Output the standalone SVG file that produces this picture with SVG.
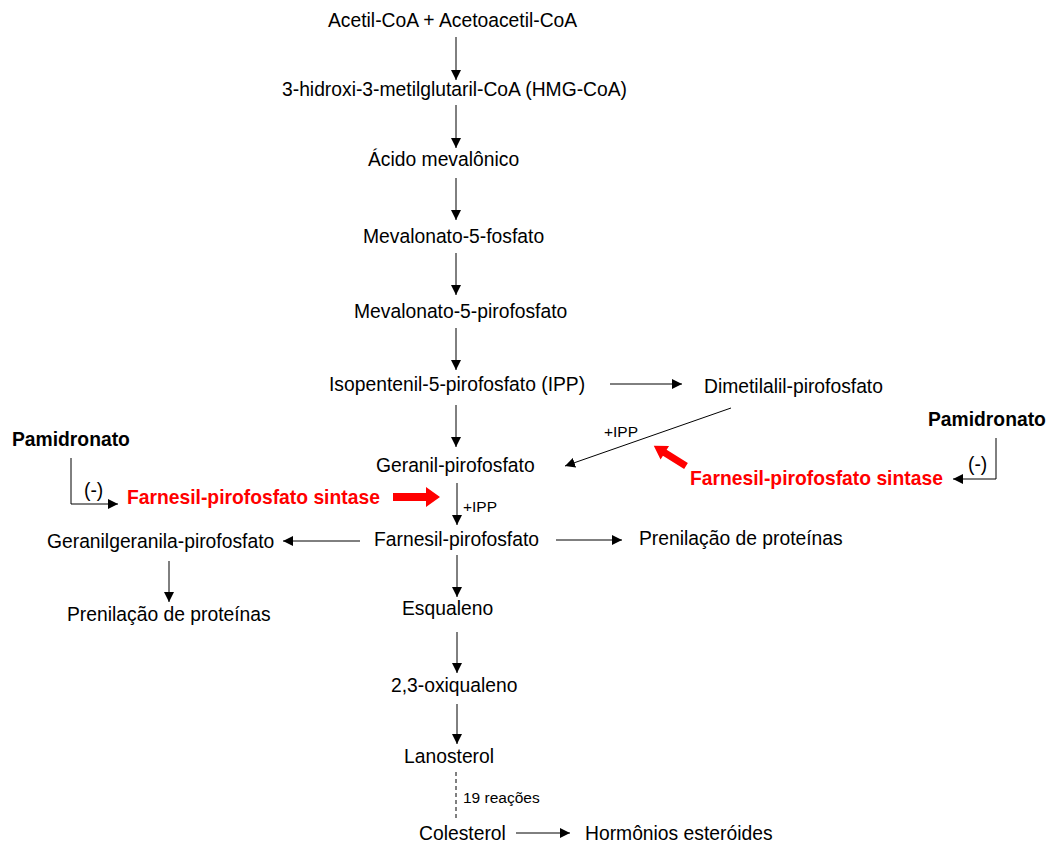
<svg xmlns="http://www.w3.org/2000/svg" width="1054" height="846" viewBox="0 0 1054 846">
<defs>
<marker id="ah" viewBox="0 0 10 10" refX="10" refY="5" markerWidth="10" markerHeight="10" markerUnits="userSpaceOnUse" orient="auto">
<path d="M0,0 L10,5 L0,10 Z" fill="#000"/>
</marker>
</defs>
<style>
text{font-family:"Liberation Sans",Arial,sans-serif;font-size:19.3px;fill:#000}
.b{font-weight:bold}
.r{fill:#ff0000;font-weight:bold}
.s{font-size:15.5px}
.c{stroke:#000;stroke-width:1;fill:none}
.d{stroke-dasharray:4,3}
.red{fill:#ff0000}
</style>
<rect width="1054" height="846" fill="#fff"/>
<g id="n-acetil"><text x="328" y="27">Acetil-CoA + Acetoacetil-CoA</text></g>
<g id="n-hmg"><text x="282" y="96">3-hidroxi-3-metilglutaril-CoA (HMG-CoA)</text></g>
<g id="n-acido"><text x="368" y="166">Ácido mevalônico</text></g>
<g id="n-mev5f"><text x="363" y="243">Mevalonato-5-fosfato</text></g>
<g id="n-mev5pp"><text x="354" y="318">Mevalonato-5-pirofosfato</text></g>
<g id="n-ipp"><text x="329" y="391">Isopentenil-5-pirofosfato (IPP)</text></g>
<g id="n-dmapp"><text x="704" y="393">Dimetilalil-pirofosfato</text></g>
<g id="n-gpp"><text x="376" y="472">Geranil-pirofosfato</text></g>
<g id="n-fpp"><text x="374" y="546">Farnesil-pirofosfato</text></g>
<g id="n-ggpp"><text x="47" y="548">Geranilgeranila-pirofosfato</text></g>
<g id="n-pren1"><text x="639" y="545">Prenilação de proteínas</text></g>
<g id="n-pren2"><text x="67" y="621">Prenilação de proteínas</text></g>
<g id="n-esq"><text x="402" y="615">Esqualeno</text></g>
<g id="n-oxi"><text x="391" y="692">2,3-oxiqualeno</text></g>
<g id="n-lano"><text x="404" y="763">Lanosterol</text></g>
<g id="n-col"><text x="419" y="840">Colesterol</text></g>
<g id="n-horm"><text x="585" y="840">Hormônios esteróides</text></g>
<g id="n-pam1"><text class="b" x="12" y="446">Pamidronato</text></g>
<g id="n-pam2"><text class="b" x="928" y="426">Pamidronato</text></g>
<g id="n-fps1"><text class="r" x="127" y="504">Farnesil-pirofosfato sintase</text></g>
<g id="n-fps2"><text class="r" x="690" y="485">Farnesil-pirofosfato sintase</text></g>
<g id="connectors">
<line class="c" x1="456" y1="37" x2="456" y2="80" marker-end="url(#ah)"/>
<line class="c" x1="456" y1="105" x2="456" y2="148" marker-end="url(#ah)"/>
<line class="c" x1="456" y1="178" x2="456" y2="220" marker-end="url(#ah)"/>
<line class="c" x1="456" y1="253" x2="456" y2="295" marker-end="url(#ah)"/>
<line class="c" x1="456" y1="328" x2="456" y2="370" marker-end="url(#ah)"/>
<line class="c" x1="456" y1="405" x2="456" y2="447" marker-end="url(#ah)"/>
<line class="c" x1="457" y1="483" x2="457" y2="525" marker-end="url(#ah)"/>
<line class="c" x1="457" y1="555" x2="457" y2="597" marker-end="url(#ah)"/>
<line class="c" x1="457" y1="632" x2="457" y2="673" marker-end="url(#ah)"/>
<line class="c" x1="457" y1="704" x2="457" y2="744" marker-end="url(#ah)"/>
<line class="c d" x1="456" y1="772" x2="456" y2="818"/>
<line class="c" x1="610" y1="384" x2="682" y2="384" marker-end="url(#ah)"/>
<line class="c" x1="731" y1="408" x2="565" y2="466" marker-end="url(#ah)"/>
<line class="c" x1="360" y1="541" x2="283" y2="541" marker-end="url(#ah)"/>
<line class="c" x1="556" y1="540" x2="622" y2="540" marker-end="url(#ah)"/>
<line class="c" x1="169" y1="561" x2="169" y2="602" marker-end="url(#ah)"/>
<line class="c" x1="516" y1="833" x2="570" y2="833" marker-end="url(#ah)"/>
<polyline class="c" points="71,458 71,504 118,504" marker-end="url(#ah)"/>
<polyline class="c" points="996,438 996,479 953,479" marker-end="url(#ah)"/>
<path class="red" d="M393,493 L426,493 L426,487 L440,497 L426,507 L426,501 L393,501 Z"/>
<path class="red" transform="translate(686,466) rotate(-148)" d="M0,-3.5 L25,-3.5 L25,-8 L38,0 L25,8 L25,3.5 L0,3.5 Z"/>
<text class="s" x="604" y="437">+IPP</text>
<text class="s" x="463" y="512">+IPP</text>
<text class="s" x="463" y="803">19 reações</text>
<text x="84" y="497">(-)</text>
<text x="968" y="471">(-)</text>
</g>
</svg>
